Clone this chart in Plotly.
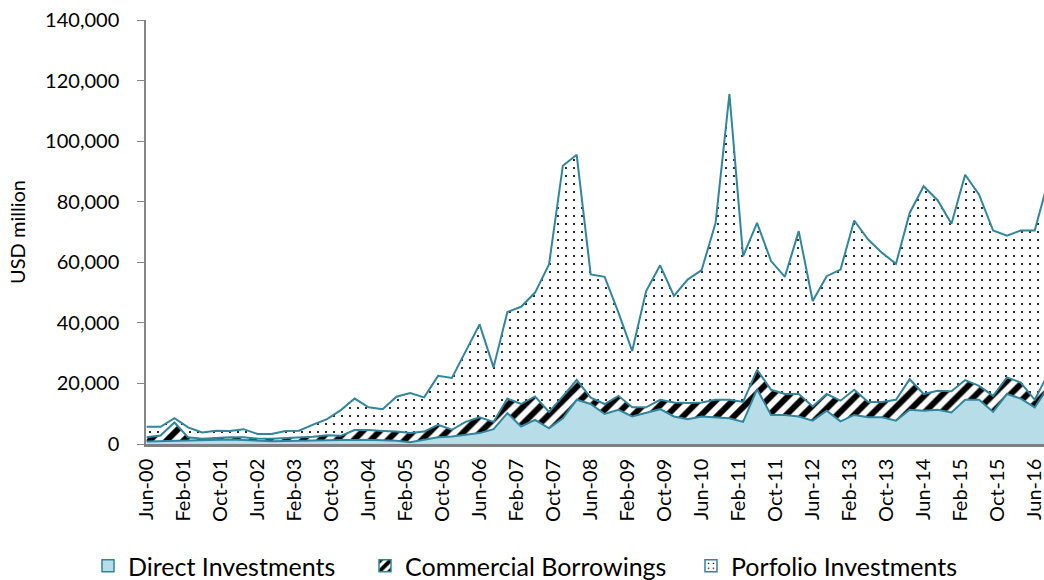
import plotly.graph_objects as go
import pandas as pd

# quarterly observations, Jun-00 .. Sep-16 (USD million)
quarters = pd.date_range("2000-06-01", periods=66, freq="3MS")

direct = [800, 900, 1000, 1200, 1100, 1300, 1500, 1300, 1000, 900, 1000, 1100,
          1200, 1400, 1300, 1300, 1400, 1200, 1100, 600, 1500, 2200, 2500, 3000,
          3600, 4900, 10200, 5800, 8000, 5200, 8500, 14600, 13200, 9900, 11300, 9100,
          10200, 11500, 9100, 8200, 9100, 8800, 8500, 7300, 18100, 9600, 9600, 9100,
          7700, 11000, 7500, 9600, 8800, 8800, 7700, 11300, 11000, 11300, 10400, 14600,
          14600, 10600, 16500, 15000, 12100, 19000]

# direct + commercial borrowings (read as the middle line)
mid_line = [2200, 2800, 7100, 2200, 1700, 2000, 2200, 2200, 1800, 1700, 1900, 2000,
            2400, 2900, 2700, 4600, 4600, 4300, 4100, 3600, 4100, 6300, 4700, 7300,
            8800, 7300, 15000, 13200, 15700, 10600, 15700, 21200, 15300, 13200, 15900, 12100,
            12100, 14600, 13700, 13500, 13700, 14600, 14600, 13900, 24500, 17900, 16500, 16500,
            12400, 16500, 14300, 17900, 13900, 13900, 14600, 21400, 16500, 17600, 17400, 21100,
            19200, 15900, 22000, 20300, 14600, 23500]

# total of all three (top line)
top_line = [5700, 5700, 8500, 5500, 3800, 4400, 4300, 4900, 3300, 3300, 4300, 4400,
            6400, 8200, 11200, 15000, 12100, 11500, 15600, 16800, 15400, 22500, 21800, 30700,
            39500, 25300, 43600, 45300, 50000, 59300, 91900, 95500, 56000, 55200, 43400, 30700,
            50500, 59000, 48900, 54300, 57400, 73000, 115500, 62000, 73000, 60400, 55200, 70300,
            47200, 55400, 57600, 73800, 67500, 63100, 59500, 76300, 85100, 80500, 72700, 88900,
            82300, 70500, 68800, 70500, 70500, 87500]

commercial = [m - d for m, d in zip(mid_line, direct)]
portfolio = [t - m for t, m in zip(top_line, mid_line)]

names = ["Direct Investments", "Commercial Borrowings", "Porfolio Investments"]

teal = "#31859c"
light_blue = "#b7dee8"
font = "Lato"

stripes = dict(shape="/", fgcolor="black", bgcolor="white", fgopacity=1,
               size=12, solidity=0.5)
dots = dict(shape=".", fgcolor="black", bgcolor="white", fgopacity=1,
            size=8, solidity=0.06)

fig = go.Figure()

fig.add_trace(go.Scatter(x=quarters, y=direct, stackgroup="one", mode="lines",
                         line=dict(color=teal, width=2), fillcolor=light_blue,
                         showlegend=False, name=names[0]))
fig.add_trace(go.Scatter(x=quarters, y=commercial, stackgroup="one", mode="lines",
                         line=dict(color=teal, width=2), fillcolor="white",
                         fillpattern=stripes, showlegend=False, name=names[1]))
fig.add_trace(go.Scatter(x=quarters, y=portfolio, stackgroup="one", mode="lines",
                         line=dict(color=teal, width=2), fillcolor="white",
                         fillpattern=dots, showlegend=False, name=names[2]))

# legend swatches (square symbols like the original), one legend each
fig.add_trace(go.Bar(x=[None], y=[None], name=names[0], legend="legend",
                     marker=dict(color=light_blue, line=dict(color=teal, width=1.5))))
fig.add_trace(go.Bar(x=[None], y=[None], name=names[1], legend="legend2",
                     marker=dict(color="white", line=dict(color=teal, width=1.5),
                                 pattern=dict(shape="/", fgcolor="black", bgcolor="white",
                                              fgopacity=1, size=9, solidity=0.55))))
fig.add_trace(go.Bar(x=[None], y=[None], name=names[2], legend="legend3",
                     marker=dict(color="white", line=dict(color=teal, width=1.5),
                                 pattern=dict(shape=".", fgcolor="black", bgcolor="white",
                                              fgopacity=1, size=6, solidity=0.08))))

legend_style = dict(orientation="h", xref="container", yref="container", y=0.024,
                    yanchor="middle", xanchor="left", font=dict(size=25),
                    bgcolor="rgba(0,0,0,0)")

fig.update_layout(
    width=1044, height=580,
    margin=dict(l=146, r=0, t=20, b=136),
    paper_bgcolor="white", plot_bgcolor="white",
    font=dict(family=font, size=20, color="black"),
    legend=dict(legend_style, x=88 / 1044),
    legend2=dict(legend_style, x=365 / 1044),
    legend3=dict(legend_style, x=691 / 1044),
)

fig.update_xaxes(type="date", range=["2000-05-28", "2016-08-01"], automargin=False,
                 tick0="2000-06-01", dtick="M8", tickformat="%b-%y", tickangle=-90,
                 showgrid=False, showline=True, linecolor="#7f7f7f", linewidth=2.5,
                 ticks="", zeroline=False, ticklabelstandoff=4, ticklabeloverflow="allow")
fig.update_yaxes(range=[0, 140000], dtick=20000, tickformat=",", automargin=False,
                 showgrid=False, showline=True, linecolor="#868686", linewidth=1.5,
                 ticks="outside", ticklen=7, tickcolor="#868686", zeroline=False,
                 ticklabelstandoff=14,
                 title=dict(text="USD million", font=dict(size=20), standoff=14))

fig.write_html("out.html", config={"displayModeBar": False},
               post_script="document.body.style.margin='0';document.body.style.overflow='hidden';")
